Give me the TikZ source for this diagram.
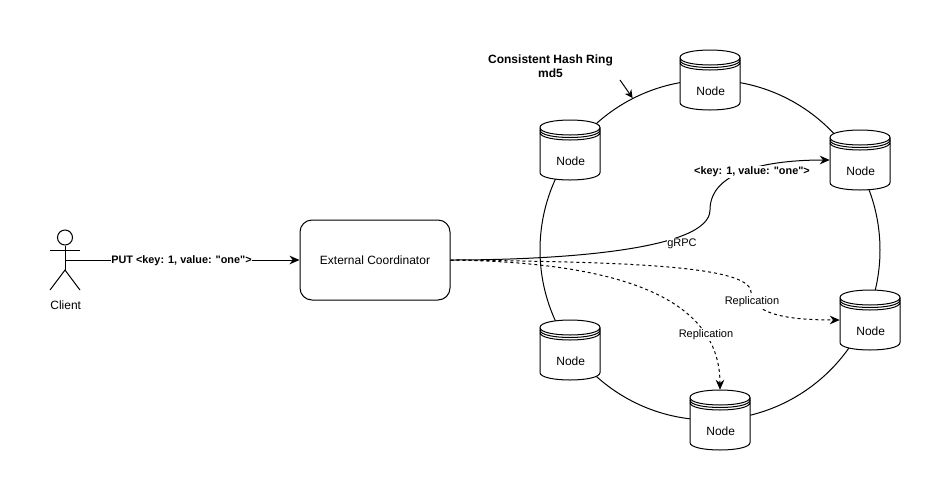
\documentclass[tikz,border=0pt]{standalone}
\usepackage{fontspec}
\setmainfont{Liberation Sans}[Ligatures=TeXOff]
\usetikzlibrary{arrows.meta}

\tikzset{
 dbbody/.style={draw, fill=white, line width=0.75pt},
 elabel/.style={fill=white, inner sep=0.5pt, font=\fontsize{8.25}{10}\selectfont},
 belabel/.style={elabel, font=\fontsize{8.15}{10}\selectfont\bfseries},
 conn/.style={line width=0.75pt, -{Stealth[length=7.5pt,width=6.5pt]}},
 repl/.style={conn, dash pattern=on 2.25pt off 2.25pt},
}

% one stored node, #1 name and #2 its centre in pixels
\newcommand{\dbnode}[2]{
 \begin{scope}[shift={(#2)}]
 \draw [dbbody] (-30,-22.5) .. controls (-30,-32.5) and (30,-32.5) .. (30,-22.5)
   -- (30,22.5) .. controls (30,32.5) and (-30,32.5) .. (-30,22.5) -- cycle;
 \draw [line width=0.75pt] (-30,-22.5) .. controls (-30,-12.5) and (30,-12.5) .. (30,-22.5);
 \draw [line width=0.75pt] (-30,-20) .. controls (-30,-10) and (30,-10) .. (30,-20);
 \draw [line width=0.75pt] (-30,-17.5) .. controls (-30,-7.5) and (30,-7.5) .. (30,-17.5);
 \node (#1) [minimum width=45pt, minimum height=45pt, inner sep=0pt] at (0,0) {};
 \node (#1text) [font=\fontsize{9}{11}\selectfont] at (0.7,11) {Node};
 \end{scope}
}

\begin{document}
\begin{tikzpicture}[x=0.75pt, y=-0.75pt]
 \useasboundingbox (0,0) rectangle (951,501);

 % the ring and what sits on it
 \node (ring) [draw, circle, line width=0.75pt, minimum size=255pt, inner sep=0pt] at (710,250) {};
 \coordinate (ringnote) at (620,80);
 \draw [line width=0.75pt, -{Stealth[length=6pt,width=6pt]}] (ringnote) -- (ring.117);

 \dbnode{nodea}{570,150}
 \dbnode{nodeb}{710,80}
 \dbnode{nodec}{860,160}
 \dbnode{noded}{870,320}
 \dbnode{nodee}{720,420}
 \dbnode{nodef}{570,350}

 \node (ringtitle) [align=center, font=\fontsize{9}{10.5}\selectfont\bfseries] at (550.5,66) {Consistent Hash Ring\\md5};

 % client
 \node (head) [draw, circle, line width=0.75pt, minimum size=11.25pt, inner sep=0pt] at (65,237.5) {};
 \coordinate (hip) at (65,270);
 \coordinate (chest) at (65,260);
 \coordinate (lefthand) at (50,250);
 \coordinate (righthand) at (80,250);
 \coordinate (leftfoot) at (50,290);
 \coordinate (rightfoot) at (80,290);
 \draw [line width=0.75pt] (head) -- (hip);
 \draw [line width=0.75pt] (lefthand) -- (righthand);
 \draw [line width=0.75pt] (leftfoot) -- (hip) -- (rightfoot);
 \node (client) [font=\fontsize{9}{11}\selectfont] at (65.7,305) {Client};

 \node (coord) [draw, rounded corners=9pt, line width=0.75pt, minimum width=112.5pt, minimum height=60pt, font=\fontsize{9}{11}\selectfont] at (375,260) {External Coordinator};

 \draw [conn] (chest) -- (coord.west);
 \node (putlabel) [belabel] at (181.5,260.5) {PUT <key: 1, value: "one">};

 % write and its copies
 \draw [conn] (coord.east) .. controls (560,260) and (710,250) .. (710,210)
   .. controls (710,170) and (770,160) .. (nodec.west);
 \node (grpc) [elabel] at (682,243.5) {gRPC};
 \node (keylabel) [belabel] at (752,172) {<key: 1, value: "one">};

 \draw [repl] (coord.east) .. controls (620,262) and (750,265) .. (751,292)
   .. controls (752,315) and (790,320) .. (noded.west);
 \node (repa) [elabel] at (752,302) {Replication};

 \draw [repl] (coord.east) .. controls (600,262) and (720,290) .. (nodee.north);
 \node (repb) [elabel] at (706,335) {Replication};
\end{tikzpicture}
\end{document}
